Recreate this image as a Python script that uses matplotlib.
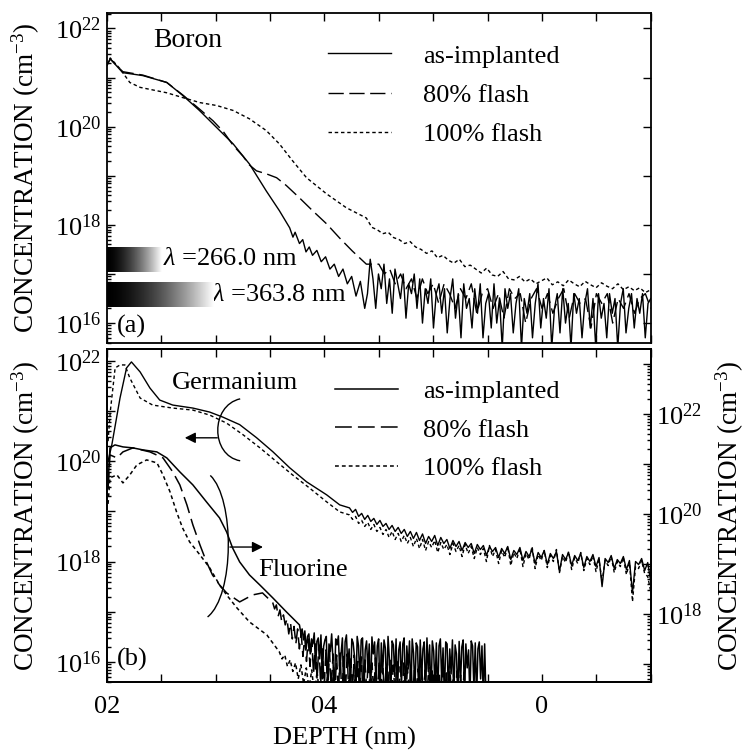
import numpy as np
import matplotlib
matplotlib.use("Agg")
from matplotlib import pyplot as plt
from matplotlib.path import Path
from matplotlib.patches import PathPatch
from matplotlib.ticker import LogLocator, FixedLocator, FuncFormatter, NullFormatter

plt.rcParams['font.family'] = ['Liberation Serif', 'DejaVu Serif']
plt.rcParams['mathtext.fontset'] = 'custom'
plt.rcParams['mathtext.rm'] = 'Liberation Serif'
plt.rcParams['mathtext.it'] = 'Liberation Serif:italic'
plt.rcParams['axes.linewidth'] = 1.3

FS = 19

# ---- (a) boron, log10 concentration ----
b0_x = [0.0, 0.6, 2.9, 6.6, 11, 14, 17, 20.2, 23.2, 26.2, 29.3, 31.7, 33.6, 34.2, 34.6, 35.4,
        36.0, 36.6, 37.2, 37.8, 38.6, 39.4, 40.2, 41.0, 41.8, 42.6, 43.4, 44.2, 45.0, 45.8, 46.6, 47.4]
b0_y = [21.25, 21.38, 21.10, 21.04, 20.90, 20.63, 20.33, 19.98, 19.65, 19.24, 18.69, 18.29, 17.94, 17.75,
        17.85, 17.62, 17.70, 17.45, 17.55, 17.38, 17.48, 17.25, 17.35, 17.10, 17.20, 16.95, 17.10, 16.80,
        16.95, 16.55, 16.85, 16.30]
b0_tail = [17.1, 16.6, 17.3, 16.9, 16.3, 17.0, 16.7, 17.2, 16.4, 16.9, 16.2, 17.1, 16.8, 16.5, 17.0,
           16.1, 16.8, 16.6, 17.0, 16.3, 16.9, 16.0, 16.7, 16.4, 16.9, 15.9, 16.6, 16.8, 16.2, 16.7,
           15.8, 16.5, 16.9, 16.1, 16.6, 15.7, 16.8, 16.3, 16.5, 15.9, 16.7, 16.2, 16.8, 15.7, 16.4,
           16.6, 15.9, 16.8, 16.0, 16.5, 15.5, 16.7, 16.3, 16.6, 15.8, 16.4, 16.7, 15.5, 16.5, 16.2,
           16.6, 15.7, 16.4, 16.8, 15.9, 16.5, 16.1, 16.7, 15.5, 16.3, 16.6, 15.8, 16.7, 16.0, 16.4,
           15.5, 16.6, 16.2, 16.5, 15.7, 16.4, 16.7, 15.9, 16.5, 15.5, 16.6, 16.1, 16.4, 15.7, 16.6,
           16.2, 16.5, 15.5, 16.4, 16.7, 15.8, 16.3, 16.6, 15.9, 16.5, 16.2, 16.6, 15.7, 16.4, 16.5]

b1_x = [0.0, 0.6, 2.9, 6.6, 11, 14, 17, 19.5, 21.4, 23.2, 25.0, 26.2, 27.5, 29.3, 31.2, 33.0, 35.4,
        37.8, 40.4, 42.8, 45.1, 47.7, 50.0]
b1_y = [21.25, 21.38, 21.12, 21.05, 20.90, 20.64, 20.36, 20.12, 19.90, 19.62, 19.40, 19.22, 19.10,
        19.04, 18.96, 18.80, 18.55, 18.29, 18.02, 17.73, 17.47, 17.20, 17.20]
b1_tail = [17.2, 17.0, 17.1, 16.8, 17.0, 16.7, 16.9, 16.5, 16.9, 16.6, 16.8, 16.4, 16.8, 16.6, 16.3,
           16.7, 16.5, 16.8, 16.2, 16.6, 16.7, 16.3, 16.6, 16.1, 16.7, 16.5, 16.6, 16.0, 16.5, 16.7,
           16.3, 16.6, 16.2, 16.5, 16.7, 16.1, 16.6, 16.4, 16.5, 15.9, 16.6, 16.4, 16.6, 16.0, 16.5,
           16.3, 16.6, 16.2, 16.5, 16.6, 16.3]

b2_x = [0.0, 0.6, 2.4, 4.2, 6.1, 11, 14, 17.1, 20.2, 23.2, 26.2, 29.3, 31.7, 34.1, 36.7, 40.4, 44.0, 47.7]
b2_y = [21.25, 21.40, 21.18, 20.90, 20.80, 20.69, 20.59, 20.49, 20.43, 20.33, 20.16, 19.92, 19.65,
        19.31, 18.96, 18.63, 18.35, 18.14]
b2_tail = [18.02, 17.95, 17.90, 17.82, 17.85, 17.74, 17.70, 17.62, 17.66, 17.55, 17.50, 17.42, 17.47,
           17.33, 17.38, 17.28, 17.22, 17.30, 17.15, 17.18, 17.10, 17.02, 17.12, 16.98, 16.95, 17.05,
           16.90, 16.88, 16.95, 16.84, 16.90, 16.80, 16.86, 16.92, 16.78, 16.84, 16.76, 16.88, 16.80,
           16.74, 16.85, 16.78, 16.72, 16.82, 16.75, 16.70, 16.80, 16.68, 16.74, 16.66, 16.72, 16.62, 16.68]

# ---- (b) germanium (left axis) ----
g0_x = [0.2, 0.9, 2.4, 3.6, 4.5, 6.1, 7.9, 9.7, 12.1, 15.8, 18.9, 21.3, 24.4, 27.5, 30.5, 33.6,
        36.7, 40.4, 42.8, 44.6]
g0_y = [20.0, 20.33, 21.26, 21.86, 21.98, 21.78, 21.46, 21.22, 21.12, 21.06, 20.98, 20.88, 20.73,
        20.47, 20.19, 19.87, 19.59, 19.33, 19.13, 19.07]
g0_tail = [19.07, 18.98, 19.04, 18.90, 18.96, 18.84, 18.92, 18.80, 18.86, 18.74, 18.82, 18.70, 18.76,
           18.64, 18.72, 18.60, 18.68, 18.56, 18.64, 18.50, 18.60, 18.46, 18.58, 18.42, 18.55, 18.36,
           18.50, 18.40, 18.52, 18.32, 18.48, 18.36, 18.44, 18.26, 18.42, 18.30, 18.40, 18.22, 18.38,
           18.28, 18.36, 18.16, 18.34, 18.24, 18.32, 18.12, 18.30, 18.20, 18.28, 18.08, 18.26, 18.16,
           18.30, 18.04, 18.22, 18.14, 18.28, 18.02, 18.20, 18.10, 18.24, 17.96, 18.18, 18.08, 18.22,
           17.94, 18.16, 18.06, 18.20, 17.80, 18.14, 18.04, 18.18, 17.92, 18.12, 18.02, 18.16, 17.88,
           18.10, 18.00, 18.14, 17.90, 18.08, 17.50, 18.06, 17.98, 18.12, 17.86, 18.04, 17.96, 18.10,
           17.84, 18.02, 17.38, 18.00, 17.94, 18.06, 17.82, 17.98, 17.60]

g2_x = [0.2, 0.6, 1.5, 2.4, 3.3, 4.2, 6.1, 8.4, 12.1, 15.8, 18.9, 22.0, 25.0, 28.1, 31.2, 34.1,
        37.2, 40.4, 42.8, 44.6]
g2_y = [20.4, 20.98, 21.86, 21.92, 21.92, 21.66, 21.26, 21.12, 21.06, 21.02, 20.92, 20.76, 20.53,
        20.27, 19.99, 19.73, 19.47, 19.19, 18.99, 18.93]
g2_tail = [18.93, 18.84, 18.90, 18.76, 18.82, 18.70, 18.78, 18.64, 18.74, 18.60, 18.68, 18.54, 18.64,
           18.48, 18.60, 18.44, 18.56, 18.40, 18.52, 18.36, 18.48, 18.30, 18.46, 18.26, 18.44, 18.22,
           18.40, 18.28, 18.42, 18.18, 18.38, 18.24, 18.34, 18.14, 18.36, 18.20, 18.32, 18.10, 18.34,
           18.16, 18.30, 18.06, 18.28, 18.14, 18.26, 18.00, 18.32, 18.10, 18.24, 17.96, 18.22, 18.08,
           18.30, 17.92, 18.18, 18.06, 18.26, 17.90, 18.16, 18.04, 18.30, 17.86, 18.14, 18.02, 18.22,
           17.88, 18.12, 18.00, 18.24, 17.78, 18.10, 17.98, 18.20, 17.84, 18.08, 17.96, 18.18, 17.82,
           18.06, 17.94, 18.12, 17.80, 18.04, 17.60, 18.02, 17.92, 18.10, 17.78, 18.00, 17.90, 18.08,
           17.74, 17.98, 17.20, 17.90, 17.86, 18.02, 17.76, 17.70, 17.40]

# ---- (b) fluorine (right axis) ----
f0_x = [0.2, 0.55, 1.47, 2.94, 4.77, 6.61, 9.17, 11.0, 13.4, 15.8, 18.3, 20.7, 22.0, 23.1, 24.4,
        26.2, 28.1, 30.5, 33.0, 35.4]
f0_y = [20.6, 21.32, 21.38, 21.34, 21.32, 21.28, 21.24, 21.12, 20.84, 20.58, 20.24, 19.92, 19.64,
        19.32, 19.04, 18.78, 18.58, 18.32, 18.04, 17.78]
f0_tail = [17.78, 17.62, 17.70, 17.48, 17.66, 17.30, 17.55, 17.60, 17.20, 17.50, 17.40, 17.62, 16.90,
           17.45, 17.52, 17.10, 17.58, 16.70, 17.35, 17.48, 17.55, 16.50, 17.40, 17.25, 17.60, 17.05,
           16.40, 17.50, 17.38, 17.56, 16.80, 17.20, 17.52, 16.30, 17.44, 17.58, 16.95, 17.30, 16.45,
           17.50, 17.42, 17.15, 16.30, 17.55, 17.36, 16.70, 17.48, 17.52, 16.35, 17.28, 17.46, 16.88,
           17.40, 16.30, 17.54, 17.20, 17.44, 16.60, 17.36, 17.50, 16.30, 17.42, 16.80, 17.48, 17.32,
           16.40, 17.55, 17.10, 16.30, 17.46, 17.38, 16.75, 17.50, 16.30, 17.28, 17.44, 16.55, 17.40,
           17.52, 16.30, 17.36, 16.90, 17.46, 16.30, 17.50, 17.22, 16.45, 17.42, 17.34, 16.30, 17.48,
           16.70, 17.30, 17.44, 16.35, 17.52, 16.85, 17.38, 16.30, 17.46, 17.26, 16.50, 17.42, 16.30,
           17.36, 17.50, 16.65, 17.32, 16.30, 17.44, 17.40, 16.40, 17.30, 16.80, 17.48, 16.30, 17.38,
           17.20, 16.30, 17.45, 16.60, 17.34, 17.48, 16.30, 17.40, 16.92, 17.28, 16.30, 17.46, 17.36,
           16.50, 17.42, 16.30, 17.30, 17.44, 16.70, 17.36, 16.30, 17.40, 16.30]

f1_x = [0.2, 0.55, 1.83, 2.94, 4.77, 7.9, 10.3, 12.1, 13.4, 14.7, 15.8, 17.1, 18.3, 19.4, 20.7,
        22.0, 24.4, 26.8, 28.6, 30.5]
f1_y = [20.5, 21.18, 21.12, 21.24, 21.32, 21.24, 21.12, 20.84, 20.58, 20.18, 19.78, 19.38, 19.04,
        18.78, 18.58, 18.42, 18.24, 18.38, 18.42, 18.22]
f1_tail = [18.22, 18.10, 18.18, 17.95, 18.08, 17.85, 17.98, 17.78, 17.90, 17.60, 17.82, 17.50, 17.75,
           17.40, 17.70, 17.30, 17.62, 17.15, 17.55, 17.05, 17.50, 16.95, 17.45, 16.80, 17.40, 16.70,
           17.38, 16.60, 17.30, 16.55, 17.28, 16.45, 17.25, 16.50, 17.20, 16.35, 17.18, 16.40, 17.22,
           16.30, 17.15, 16.45, 17.20, 16.30, 17.10, 16.50, 17.18, 16.30, 17.05, 16.42, 17.14, 16.30,
           17.08, 16.48, 17.16, 16.30, 17.02, 16.40, 17.12, 16.30, 17.06, 16.44, 17.10, 16.30, 17.00,
           16.50, 17.08, 16.30, 16.98, 16.38, 17.05, 16.30, 16.95, 16.46, 17.02, 16.30, 16.92, 16.40,
           17.00, 16.30, 16.96, 16.42, 16.90, 16.30, 16.98, 16.36, 16.88, 16.30, 16.94, 16.44, 16.86,
           16.30, 16.92, 16.38, 16.84, 16.30, 16.90, 16.40, 16.82, 16.30, 16.88, 16.34, 16.80, 16.30,
           16.86, 16.40, 16.78, 16.30, 16.84, 16.30]

f2_x = [0.2, 0.55, 1.83, 2.94, 4.2, 5.5, 7.3, 9.2, 10.3, 11.6, 12.8, 13.9, 15.2, 17.1, 18.9, 20.7,
        22.0, 23.9, 26.2, 29.4, 31.7]
f2_y = [20.2, 20.72, 20.78, 20.62, 20.78, 20.98, 21.08, 21.02, 20.78, 20.44, 20.04, 19.72, 19.44,
        19.18, 18.92, 18.58, 18.38, 18.12, 17.84, 17.58, 17.24]
f2_tail = [17.24, 17.10, 17.18, 16.95, 17.08, 16.85, 17.02, 16.70, 16.98, 16.60, 16.92, 16.50, 16.88,
           16.40, 16.85, 16.30, 16.82, 16.45, 16.78, 16.30, 16.75, 16.40, 16.72, 16.30, 16.70, 16.36,
           16.76, 16.30, 16.68, 16.40, 16.72, 16.30, 16.66, 16.34, 16.70, 16.30, 16.64, 16.38, 16.68,
           16.30, 16.66, 16.32, 16.70, 16.30, 16.62, 16.36, 16.66, 16.30, 16.64, 16.30]

labels = ['as-implanted', '80% flash', '100% flash']
x_ticklabels = {0: '02', 40: '04', 80: '0'}

SOLID = '-'
DASH = (0, (11, 4))
DOT = (0, (2.5, 2))


def series(x, y, tail, x_end):
    tx = np.linspace(x[-1], x_end, len(tail))
    xx = np.concatenate([x, tx[1:]])
    yy = np.concatenate([y, tail[1:]])
    return xx, 10.0 ** yy


def fmt(v, pos):
    e = int(round(np.log10(v)))
    if e % 2 == 0:
        return r'$\mathregular{10^{%d}}$' % e
    return ''


def style_log(axis):
    axis.set_major_locator(LogLocator(base=10, subs=(1.0,), numticks=30))
    axis.set_minor_locator(LogLocator(base=10, subs=np.arange(2, 10), numticks=30))
    axis.set_major_formatter(FuncFormatter(fmt))
    axis.set_minor_formatter(NullFormatter())


fig = plt.figure(figsize=(7.48, 7.56), dpi=100)
ax1 = fig.add_axes([0.143, 0.546, 0.727, 0.4365])
ax2 = fig.add_axes([0.143, 0.098, 0.727, 0.4405])

for ax in (ax1, ax2):
    ax.set_xlim(0, 100)
    ax.set_yscale('log')
    ax.xaxis.set_major_locator(FixedLocator(np.arange(0, 101, 10)))
    ax.set_xticklabels([x_ticklabels.get(int(t), '') for t in np.arange(0, 101, 10)])
    style_log(ax.yaxis)
    ax.tick_params(axis='both', which='both', direction='in', labelsize=FS, width=1.0)
    ax.tick_params(which='major', length=6)
    ax.tick_params(which='minor', length=3)
    ax.tick_params(axis='x', top=True, pad=10)
    ax.tick_params(axis='y', pad=4)
    ax.set_ylabel(r'CONCENTRATION (cm$^{-3}$)', fontsize=FS + 0.5, labelpad=9)

# --- panel (a) ---
ax1.set_ylim(10 ** 15.59, 10 ** 22.31)
ax1.tick_params(axis='y', right=True)
ax1.tick_params(axis='x', labelbottom=False)
h = []
for (x, y, t, end), ls in zip([(b0_x, b0_y, b0_tail, 100), (b1_x, b1_y, b1_tail, 100),
                               (b2_x, b2_y, b2_tail, 100)], [SOLID, DASH, DOT]):
    xx, yy = series(x, y, t, end)
    line, = ax1.plot(xx, yy, color='k', lw=1.0, linestyle=ls)
    h.append(line)
ax1.legend(h, labels, loc='upper left', bbox_to_anchor=(0.382, 0.946), frameon=False,
           fontsize=FS, handlelength=2.4, handletextpad=1.2, labelspacing=0.59, borderpad=0)
ax1.text(0.085, 0.918, 'Boron', transform=ax1.transAxes, fontsize=FS + 1, va='center')
ax1.text(0.018, 0.05, '(a)', transform=ax1.transAxes, fontsize=FS, va='center')

grad = np.linspace(0, 1, 256).reshape(1, -1) ** 1.6
for (x0, y0, w, hh), txt, tx, ty in [((0.0, 0.215, 0.101, 0.076), r'$\lambda$ =266.0 nm', 0.103, 0.2545),
                                      ((0.0, 0.109, 0.195, 0.076), r'$\lambda$ =363.8 nm', 0.193, 0.145)]:
    ins = ax1.inset_axes([x0, y0, w, hh])
    ins.imshow(grad, cmap='gray', aspect='auto', interpolation='bilinear', vmin=0, vmax=1)
    ins.axis('off')
    ax1.text(tx, ty, txt, transform=ax1.transAxes, fontsize=FS, va='center')

# --- panel (b) ---
ax2.set_ylim(10 ** 15.6, 10 ** 22.24)
ax2.set_xlabel('DEPTH (nm)', fontsize=FS)
ax2.xaxis.set_label_coords(0.4375, -0.135)
ax2.xaxis.label.set_va('top')
for (x, y, t), ls in zip([(g0_x, g0_y, g0_tail), (g2_x, g2_y, g2_tail)], [SOLID, DOT]):
    xx, yy = series(x, y, t, 100)
    ax2.plot(xx, yy, color='k', lw=1.0, linestyle=ls)

ax3 = ax2.twinx()
ax3.set_yscale('log')
ax3.set_ylim(10 ** 16.64, 10 ** 23.3)
style_log(ax3.yaxis)
ax3.tick_params(axis='y', which='both', direction='in', labelsize=FS, width=1.0, pad=4)
ax3.tick_params(which='major', length=6)
ax3.tick_params(which='minor', length=3)
ax3.set_ylabel(r'CONCENTRATION (cm$^{-3}$)', fontsize=FS + 0.5, labelpad=8)
h = []
for (x, y, t, end), ls in zip([(f0_x, f0_y, f0_tail, 69.7), (f1_x, f1_y, f1_tail, 66),
                               (f2_x, f2_y, f2_tail, 56)], [SOLID, DASH, DOT]):
    xx, yy = series(x, y, t, end)
    line, = ax3.plot(xx, yy, color='k', lw=1.1, linestyle=ls)
    h.append(line)
ax3.legend(h, labels, loc='upper left', bbox_to_anchor=(0.395, 0.948), frameon=False,
           fontsize=FS, handlelength=2.4, handletextpad=0.95, labelspacing=0.58, borderpad=0)

ax2.text(0.119, 0.898, 'Germanium', transform=ax2.transAxes, fontsize=FS, va='center')
ax2.text(0.278, 0.336, 'Fluorine', transform=ax2.transAxes, fontsize=FS, va='center')
ax2.text(0.018, 0.066, '(b)', transform=ax2.transAxes, fontsize=FS, va='center')

# brackets and arrows
ge_br = Path([(0.245, 0.850), (0.19, 0.83), (0.19, 0.68), (0.245, 0.664)],
             [Path.MOVETO, Path.CURVE4, Path.CURVE4, Path.CURVE4])
f_br = Path([(0.190, 0.620), (0.235, 0.55), (0.235, 0.26), (0.185, 0.195)],
            [Path.MOVETO, Path.CURVE4, Path.CURVE4, Path.CURVE4])
for p in (ge_br, f_br):
    ax2.add_patch(PathPatch(p, transform=ax2.transAxes, fill=False, lw=1.0, color='k'))
ax2.annotate('', xy=(0.138, 0.733), xytext=(0.208, 0.733), xycoords='axes fraction',
             arrowprops=dict(arrowstyle='-|>', color='k', lw=1.0, mutation_scale=16))
ax2.annotate('', xy=(0.292, 0.405), xytext=(0.221, 0.405), xycoords='axes fraction',
             arrowprops=dict(arrowstyle='-|>', color='k', lw=1.0, mutation_scale=16))

fig.savefig('out.png', dpi=100)
